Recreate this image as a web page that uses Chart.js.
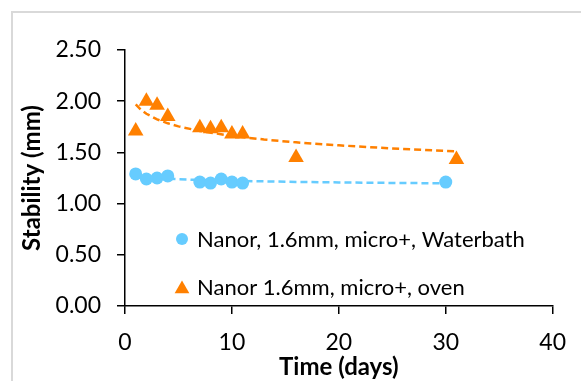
<!DOCTYPE html>
<html>
<head>
<meta charset="utf-8">
<script src="https://cdn.jsdelivr.net/npm/chart.js@4.4.0/dist/chart.umd.min.js"></script>
<style>
  html, body { margin: 0; padding: 0; background: #fff; overflow: hidden; }
  #wrap { position: relative; width: 581px; height: 381px; }
  #frame { position: absolute; left: 11px; top: 11px; width: 700px; height: 500px; border: 2px solid #d9d9d9; box-sizing: border-box; pointer-events: none; }
  canvas { position: absolute; left: 0; top: 0; }
</style>
</head>
<body>
<div id="wrap">
  <div id="frame"></div>
  <canvas id="chart" width="581" height="381"></canvas>
</div>
<script>
// data
const waterDays = [1, 2, 3, 4, 7, 8, 9, 10, 11, 30];
const waterStab = [1.29, 1.24, 1.25, 1.27, 1.21, 1.20, 1.24, 1.21, 1.20, 1.21];

const ovenDays = [1, 2, 3, 4, 7, 8, 9, 10, 11, 16, 31];
const ovenStab = [1.71, 2.00, 1.96, 1.85, 1.74, 1.73, 1.74, 1.68, 1.68, 1.45, 1.43];

// dashed trend lines, read at a few days along the curve
const waterTrendDays = [1, 1.5, 2, 3, 4, 5, 7, 10, 13, 16, 20, 25, 30];
const waterTrendStab = [1.275, 1.266, 1.259, 1.250, 1.244, 1.238, 1.231, 1.223, 1.217, 1.212, 1.207, 1.202, 1.198];

const ovenTrendDays = [1, 1.5, 2, 3, 4, 5, 7, 10, 13, 16, 20, 25, 31];
const ovenTrendStab = [1.970, 1.916, 1.877, 1.823, 1.784, 1.754, 1.709, 1.661, 1.626, 1.598, 1.569, 1.539, 1.510];

const seriesNames = ['Nanor, 1.6mm, micro+, Waterbath', 'Nanor 1.6mm, micro+, oven'];
const xTicks = [0, 10, 20, 30, 40];
const yTicks = ['0.00', '0.50', '1.00', '1.50', '2.00', '2.50'];

const blue = '#66CCFF';
const orange = '#FF8000';
const FONT = 'Lato, "Open Sans", sans-serif';

function pts(xs, ys) {
    return xs.map((x, i) => ({ x: x, y: ys[i] }));
}

// legend drawn inside the plot, like the Excel one
const insideLegend = {
    id: 'insideLegend',
    afterDatasetsDraw(chart, args, opts) {
        const ctx = chart.ctx;
        ctx.save();
        ctx.font = opts.font;
        ctx.textBaseline = 'middle';
        ctx.textAlign = 'left';
        opts.items.forEach((idx, i) => {
            const ds = chart.data.datasets[idx];
            const y = opts.y + i * opts.gap;
            ctx.fillStyle = ds.backgroundColor;
            const r = ds.pointStyle === 'triangle' ? opts.triRadius : opts.dotRadius;
            const dy = ds.pointStyle === 'triangle' ? 2 : 0;
            Chart.helpers.drawPoint(ctx, { pointStyle: ds.pointStyle, radius: r, rotation: 0, borderWidth: 0 }, opts.x, y + dy);
            ctx.fillStyle = '#000';
            ctx.fillText(ds.label, opts.x + 15, y + 1);
        });
        ctx.restore();
    }
};

const ctx = document.getElementById('chart').getContext('2d');
new Chart(ctx, {
    type: 'scatter',
    data: {
        datasets: [
            {
                label: seriesNames[0],
                data: pts(waterDays, waterStab),
                pointStyle: 'circle',
                pointRadius: 6.5,
                backgroundColor: blue,
                borderWidth: 0,
                order: 0
            },
            {
                label: seriesNames[1],
                data: pts(ovenDays, ovenStab),
                pointStyle: 'triangle',
                pointRadius: 9,
                backgroundColor: orange,
                borderWidth: 0,
                order: 0
            },
            {
                label: 'trend waterbath',
                data: pts(waterTrendDays, waterTrendStab),
                showLine: true,
                pointRadius: 0,
                borderColor: blue,
                borderWidth: 2.5,
                borderDash: [7, 4],
                order: 1
            },
            {
                label: 'trend oven',
                data: pts(ovenTrendDays, ovenTrendStab),
                showLine: true,
                pointRadius: 0,
                borderColor: orange,
                borderWidth: 2.5,
                borderDash: [7, 4],
                order: 1
            }
        ]
    },
    options: {
        responsive: false,
        animation: false,
        events: [],
        layout: { padding: { top: 50, right: 19, left: 0, bottom: 0 } },
        plugins: {
            legend: { display: false },
            tooltip: { enabled: false },
            insideLegend: {
                items: [0, 1],
                x: 182,
                y: 239,
                gap: 48,
                dotRadius: 6,
                triRadius: 8.5,
                font: '22px ' + FONT
            }
        },
        scales: {
            x: {
                type: 'linear',
                min: 0,
                max: 40,
                afterBuildTicks: (s) => { s.ticks = xTicks.map(v => ({ value: v })); },
                afterFit: (s) => { s.height = 75; },
                grid: { drawOnChartArea: false, drawTicks: true, tickLength: 8, color: '#000', lineWidth: 1.5 },
                border: { display: true, color: '#000', width: 1.5 },
                ticks: { color: '#000', padding: 15, font: { family: FONT, size: 23 } },
                title: { display: true, text: 'Time (days)', color: '#000', padding: { top: 0, bottom: -1 }, font: { family: FONT, size: 24, weight: 'bold' } }
            },
            y: {
                type: 'linear',
                min: 0,
                max: 2.5,
                afterBuildTicks: (s) => { s.ticks = yTicks.map(v => ({ value: parseFloat(v) })); },
                afterFit: (s) => { s.width = 125; },
                grid: { drawOnChartArea: false, drawTicks: true, tickLength: 8, color: '#000', lineWidth: 1.5 },
                border: { display: true, color: '#000', width: 1.5 },
                ticks: {
                    color: '#000',
                    padding: 16,
                    font: { family: FONT, size: 23 },
                    callback: (v) => v.toFixed(2)
                },
                title: { display: true, text: 'Stability (mm)', color: '#000', padding: { top: 18, bottom: 0 }, font: { family: FONT, size: 24, weight: 'bold' } }
            }
        }
    },
    plugins: [insideLegend]
});
</script>
</body>
</html>
